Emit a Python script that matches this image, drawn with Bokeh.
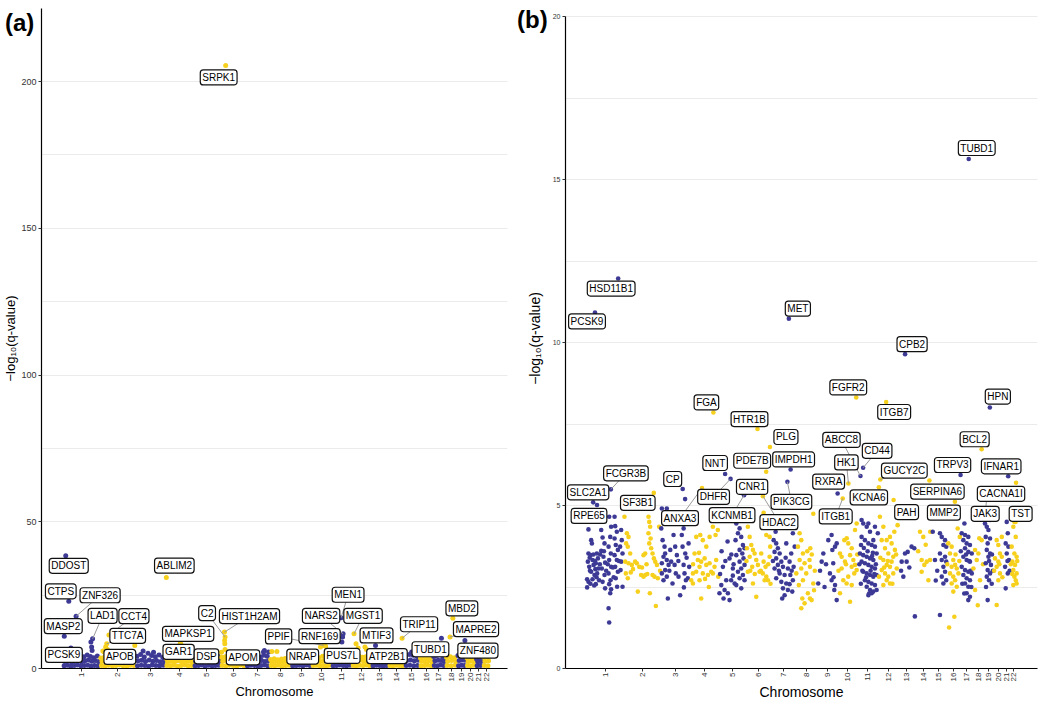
import math
import numpy as np
from bokeh.plotting import figure
from bokeh.models import (Range1d, FixedTicker, SingleIntervalTicker, ColumnDataSource,
                          CustomJSTickFormatter, Div)
from bokeh.layouts import row, column
from bokeh.core.properties import value
from bokeh.embed import file_html
from bokeh.resources import INLINE

FONT = "Liberation Sans"
BLUE = "#3D3A96"
YELLOW = "#F6D01C"
GRID = "#EBEBEB"

# ---------------- chromosome layout (Mb) ----------------
CHROM_LEN_MB = [249, 242, 198, 190, 181, 171, 159, 145, 138, 134, 135,
                133, 114, 107, 102, 90, 83, 80, 59, 64, 47, 51]
CHROM_NAMES = ["1", "2", "3", "4", "5", "6", "7", "8", "9", "10", "11",
               "12", "13", "14", "15", "16", "17", "18", "19", "20", "21", "22"]

# ---------------- panel (a): labelled genes ----------------
A_GENE = ["SRPK1", "DDOST", "ABLIM2", "CTPS", "ZNF326", "MEN1", "MBD2", "MASP2",
          "NARS2", "RNF169", "MGST1", "CCT4", "C2", "HIST1H2AM", "LAD1", "TTC7A",
          "MAPKSP1", "PPIF", "MTIF3", "TRIP11", "MAPRE2", "TUBD1", "ZNF480", "PCSK9",
          "APOB", "GAR1", "DSP", "APOM", "NRAP", "PUS7L", "ATP2B1"]
A_CHR = [6, 1, 4, 1, 1, 11, 18, 1, 11, 11, 12, 2, 6, 6, 1, 2,
         4, 10, 13, 14, 18, 17, 19, 1, 2, 4, 6, 6, 10, 12, 12]
A_POS = [35.8, 20.9, 8.0, 41.4, 90.5, 64.6, 51.7, 11.0, 78.1, 74.5, 16.5, 62.1,
         31.9, 27.9, 201.4, 47.2, 100.8, 81.1, 28.0, 92.4, 32.6, 57.9, 52.8, 55.5,
         21.2, 110.7, 7.5, 31.6, 115.4, 44.1, 90.0]
A_Q = [205.5, 38.4, 31.0, 22.9, 17.8, 17.3, 17.1, 11.0, 11.8, 10.7, 11.8, 11.4,
       10.7, 12.4, 10.1, 8.4, 8.4, 7.85, 7.85, 10.3, 10.7, 10.3, 9.5, 7.0,
       6.0, 6.0, 5.5, 6.5, 6.1, 7.0, 7.3]

# ---------------- panel (a): other genes (chromosome, Mb, -log10 q) ----------------
A_OTHER = [
    (1,10,0.9),(1,14,2.4),(1,6,3.8),(1,32,1.1),(1,36,2.7),(1,28,4.2),(1,55,0.8),(1,59,2.2),(1,51,3.5),
    (1,78,1.0),(1,82,2.5),(1,74,3.9),(1,100,1.2),(1,104,2.8),(1,96,4.4),(1,123,0.9),(1,127,2.3),(1,119,3.6),
    (1,146,1.0),(1,150,2.6),(1,142,4.0),(1,169,1.1),(1,173,2.9),(1,165,4.6),(1,191,0.8),(1,195,2.5),(1,187,4.1),
    (1,214,1.0),(1,218,2.7),(1,210,3.7),(1,237,0.9),(1,241,2.4),(1,233,4.3),
    (1,190,9.0),(1,195,7.3),(1,198,6.1),(1,60,5.5),
    (2,12,1.0),(2,16,2.5),(2,8,3.6),(2,36,0.8),(2,40,2.3),(2,32,3.9),(2,60,1.1),(2,64,2.6),(2,56,4.1),
    (2,85,0.9),(2,89,2.8),(2,81,3.5),(2,109,1.0),(2,113,2.4),(2,105,3.8),(2,133,1.2),(2,137,2.2),(2,129,3.4),
    (2,157,0.9),(2,161,2.7),(2,153,4.0),(2,182,0.8),(2,186,2.5),(2,178,3.7),(2,206,1.1),(2,210,2.3),(2,202,4.2),
    (2,230,1.0),(2,234,2.6),(2,226,3.6),
    (2,40,7.3),(2,52,6.5),(2,236,7.8),(2,30,5.6),
    (3,12,0.9),(3,16,2.6),(3,8,4.2),(3,37,1.1),(3,41,2.8),(3,33,4.8),(3,62,1.0),(3,66,2.4),(3,58,3.9),
    (3,87,0.8),(3,91,2.9),(3,83,5.2),(3,111,1.2),(3,115,2.5),(3,107,4.4),(3,136,1.0),(3,140,2.7),(3,132,4.0),
    (3,161,0.9),(3,165,2.3),(3,157,4.6),(3,186,1.1),(3,190,2.6),(3,182,3.8),
    (3,50,6.0),(3,120,5.5),
    (4,12,1.0),(4,16,2.3),(4,8,3.4),(4,36,0.9),(4,40,2.5),(4,32,3.2),(4,59,1.1),(4,63,2.2),(4,55,3.6),
    (4,83,0.8),(4,87,2.6),(4,79,3.5),(4,107,1.0),(4,111,2.4),(4,103,3.3),(4,131,1.2),(4,135,2.3),(4,127,3.7),
    (4,154,0.9),(4,158,2.5),(4,150,3.1),(4,178,1.0),(4,182,2.2),(4,174,3.4),
    (4,105,8.4),
    (5,11,0.9),(5,15,2.5),(5,7,3.9),(5,34,1.0),(5,38,2.7),(5,30,4.1),(5,57,1.2),(5,61,2.4),(5,53,3.7),
    (5,79,0.8),(5,83,2.6),(5,75,4.3),(5,102,1.1),(5,106,2.8),(5,98,3.8),(5,125,0.9),(5,129,2.5),(5,121,4.0),
    (5,147,1.0),(5,151,2.3),(5,143,3.6),(5,170,1.1),(5,174,2.6),(5,166,4.2),
    (6,12,1.0),(6,16,2.5),(6,8,3.8),(6,37,0.9),(6,41,2.7),(6,33,4.0),(6,61,1.1),(6,65,2.9),(6,57,4.6),
    (6,86,1.0),(6,90,2.4),(6,82,3.9),(6,110,0.8),(6,114,2.6),(6,106,3.6),(6,134,1.2),(6,138,2.3),(6,130,4.1),
    (6,159,0.9),(6,163,2.5),(6,155,3.7),
    (6,28.5,9.5),(6,30,8.4),
    (7,11,0.9),(7,15,2.4),(7,7,3.5),(7,34,1.1),(7,38,2.6),(7,30,3.8),(7,57,1.0),(7,61,2.3),(7,53,3.4),
    (7,80,0.8),(7,84,2.5),(7,76,3.6),(7,102,1.0),(7,106,2.7),(7,98,3.9),(7,125,1.2),(7,129,2.4),(7,121,4.5),
    (7,148,0.9),(7,152,2.6),(7,144,4.2),
    (7,119,5.6),(7,153,5.6),(7,125,6.1),
    (8,12,1.0),(8,16,2.2),(8,8,3.1),(8,36,0.9),(8,40,2.4),(8,32,3.3),(8,60,1.1),(8,64,2.1),(8,56,3.0),
    (8,85,0.8),(8,89,2.3),(8,81,3.2),(8,109,1.0),(8,113,2.5),(8,105,3.4),(8,133,1.1),(8,137,2.2),(8,129,3.1),
    (8,16,5.8),(8,50,5.8),
    (9,11,0.9),(9,15,2.3),(9,7,3.3),(9,34,1.0),(9,38,2.5),(9,30,3.6),(9,57,1.1),(9,61,2.4),(9,53,3.2),
    (9,80,0.9),(9,84,2.6),(9,76,3.5),(9,103,1.2),(9,107,2.2),(9,99,3.4),(9,127,1.0),(9,131,2.4),(9,123,3.7),
    (10,11,1.0),(10,15,2.5),(10,7,3.8),(10,33,1.1),(10,37,2.7),(10,29,4.0),(10,56,0.9),(10,60,2.4),(10,52,3.7),
    (10,78,1.0),(10,82,2.6),(10,74,4.2),(10,100,0.8),(10,104,2.8),(10,96,3.9),(10,123,1.1),(10,127,2.5),(10,119,3.6),
    (10,60,7.3),(10,95,7.6),
    (11,11,0.9),(11,15,2.6),(11,7,3.9),(11,34,1.0),(11,38,2.4),(11,30,3.7),(11,56,1.2),(11,60,2.7),(11,52,4.1),
    (11,79,1.0),(11,83,2.9),(11,75,4.4),(11,101,0.9),(11,105,2.5),(11,97,3.8),(11,124,1.1),(11,128,2.6),(11,120,4.0),
    (11,70,9.0),
    (12,11,1.0),(12,15,2.4),(12,7,3.7),(12,33,0.9),(12,37,2.6),(12,29,3.9),(12,55,1.1),(12,59,2.8),(12,51,4.2),
    (12,78,1.0),(12,82,2.5),(12,74,3.8),(12,100,1.2),(12,104,2.7),(12,96,4.0),(12,122,0.9),(12,126,2.4),(12,118,3.6),
    (12,30,8.4),(12,100,6.5),
    (13,11,0.9),(13,15,2.5),(13,7,3.6),(13,34,1.1),(13,38,2.3),(13,30,3.4),(13,57,1.0),(13,61,2.6),(13,53,3.9),
    (13,80,0.8),(13,84,2.4),(13,76,3.5),(13,103,1.0),(13,107,2.7),(13,99,3.8),
    (14,11,1.0),(14,15,2.3),(14,7,3.2),(14,32,0.9),(14,36,2.5),(14,28,3.5),(14,54,1.1),(14,58,2.2),(14,50,3.3),
    (14,75,1.0),(14,79,2.4),(14,71,3.1),(14,96,0.9),(14,100,2.6),(14,92,3.6),
    (15,13,1.0),(15,17,2.7),(15,9,4.3),(15,38,1.1),(15,42,2.9),(15,34,4.8),(15,64,0.9),(15,68,2.6),(15,60,4.5),
    (15,89,1.0),(15,93,2.8),(15,85,4.2),(15,50,5.6),
    (16,11,0.9),(16,15,2.5),(16,7,3.6),(16,34,1.0),(16,38,2.4),(16,30,3.8),(16,56,1.1),(16,60,2.6),(16,52,3.5),
    (16,79,0.9),(16,83,2.3),(16,75,3.7),
    (17,10,1.0),(17,14,2.6),(17,6,4.1),(17,31,0.9),(17,35,2.8),(17,27,4.4),(17,52,1.2),(17,56,2.7),(17,48,4.6),
    (17,73,1.0),(17,77,2.5),(17,69,3.9),(17,40,6.0),
    (18,13,1.0),(18,17,2.5),(18,9,3.8),(18,40,0.9),(18,44,2.7),(18,36,4.0),(18,67,1.1),(18,71,2.4),(18,63,3.7),
    (19,10,0.9),(19,14,2.7),(19,6,4.4),(19,30,1.1),(19,34,2.9),(19,26,5.0),(19,49,1.0),(19,53,2.8),(19,45,4.6),
    (19,20,6.5),
    (20,11,1.0),(20,15,2.4),(20,7,3.7),(20,32,0.9),(20,36,2.6),(20,28,3.9),(20,53,1.1),(20,57,2.5),(20,49,3.6),
    (21,12,0.9),(21,16,2.3),(21,8,3.2),(21,35,1.0),(21,39,2.5),(21,31,3.4),
    (22,13,1.0),(22,17,2.5),(22,9,3.8),(22,38,0.9),(22,42,2.6),(22,34,4.0),
]

# ---------------- panel (b): labelled genes ----------------
B_GENE = ["TUBD1", "HSD11B1", "PCSK9", "MET", "CPB2", "FGFR2", "ITGB7", "HPN", "FGA",
          "HTR1B", "PLG", "BCL2", "CD44", "IMPDH1", "PDE7B", "NNT", "TRPV3", "ABCC8",
          "IFNAR1", "DHFR", "GUCY2C", "SERPINA6", "PIK3CG", "CACNA1I", "HK1", "KCNA6",
          "ANXA3", "CP", "FCGR3B", "CNR1", "SF3B1", "JAK3", "RXRA", "KCNMB1", "HDAC2",
          "ITGB1", "PAH", "MMP2", "SLC2A1", "RPE65", "TST"]
B_CHR = [17, 1, 1, 7, 13, 10, 12, 19, 4, 6, 6, 18, 11, 7, 6, 5, 17, 11,
         21, 5, 12, 14, 7, 22, 10, 12, 4, 3, 1, 6, 2, 19, 9, 5, 6,
         10, 12, 16, 1, 1, 22]
B_POS = [57.9, 209.9, 55.5, 116.3, 46.6, 123.3, 53.6, 35.5, 155.5, 78.2, 161.1, 60.8,
         35.2, 128.0, 136.2, 43.6, 3.4, 17.4, 34.7, 79.9, 14.8, 94.8, 106.5, 40.0,
         71.1, 4.9, 79.5, 148.9, 161.6, 88.9, 198.3, 17.9, 137.2, 169.8, 114.3,
         33.2, 103.2, 55.5, 43.4, 68.9, 37.4]
B_Q = [15.64, 11.97, 10.93, 10.74, 9.65, 8.32, 8.18, 8.01, 7.86, 7.35, 6.80, 6.73,
       6.16, 6.11, 6.04, 5.97, 5.94, 5.91, 5.90, 5.82, 5.80, 5.77, 5.73, 5.70,
       5.68, 5.56, 5.54, 5.51, 5.50, 5.45, 5.39, 5.39, 5.37, 5.32, 5.29,
       5.22, 5.17, 5.12, 5.10, 5.02, 4.50]

# ---------------- panel (b): other genes (chromosome, Mb, -log10 q) ----------------
B_OTHER = [
    (1,12,4.27),(1,12,3.53),(1,8,3.28),(1,17,3.12),(1,3,2.74),(1,12,2.66),(1,3,2.49),(1,30,3.94),(1,35,3.84),
    (1,26,3.48),(1,39,3.33),(1,46,3.18),(1,30,2.97),(1,52,2.87),(1,39,2.74),(1,61,2.59),(1,68,3.53),(1,75,3.38),
    (1,61,3.23),(1,79,3.07),(1,70,2.92),(1,83,2.71),(1,97,4.25),(1,106,4.02),(1,119,3.84),(1,97,3.61),(1,112,3.43),
    (1,123,3.25),(1,101,3.07),(1,119,2.87),(1,106,2.66),(1,123,2.46),(1,150,4.66),(1,163,4.35),(1,157,4.04),
    (1,146,3.74),(1,161,3.53),(1,150,3.33),(1,163,3.12),(1,146,2.92),(1,159,2.71),(1,150,2.59),(1,163,2.43),
    (1,157,2.31),(1,146,1.85),(1,150,1.41),(1,186,4.66),(1,190,4.37),(1,201,4.2),(1,186,3.99),(1,194,3.79),
    (1,208,3.64),(1,186,3.48),(1,201,3.33),(1,190,3.12),(1,208,2.97),(1,194,2.77),(1,203,2.51),(1,230,4.25),
    (1,234,3.94),(1,223,3.74),(1,239,3.53),(1,230,3.28),(1,226,3.02),(1,239,2.51),(1,20,3.4),(1,22,3.0),
    (1,45,3.5),(1,55,3.3),(1,58,3.05),(1,66,2.8),(1,88,3.2),(1,90,3.5),(1,50,2.55),(1,25,2.6),(1,115,3.6),
    (1,130,3.0),(1,140,3.2),(1,175,3.1),(1,180,2.8),(1,215,3.3),
    (2,3,4.66),(2,19,4.15),(2,30,4.04),(2,14,3.84),(2,25,3.74),(2,41,3.53),(2,8,3.28),(2,30,3.23),(2,52,3.18),
    (2,74,3.28),(2,85,3.23),(2,101,3.12),(2,12,2.92),(2,25,2.77),(2,92,2.36),(2,130,3.48),(2,141,3.53),
    (2,114,2.87),(2,130,2.82),(2,141,2.87),(2,163,4.66),(2,168,4.5),(2,174,4.35),(2,163,4.15),(2,177,3.99),
    (2,168,3.84),(2,181,3.69),(2,190,3.53),(2,199,3.38),(2,208,3.28),(2,219,3.18),(2,190,2.87),(2,203,2.82),
    (2,225,2.77),(2,172,2.31),(2,212,1.92),(2,234,4.35),(2,60,3.05),(2,120,3.1),(2,150,3.2),(2,240,3.0),
    (2,45,2.95),(2,155,2.9),
    (3,10,4.91),(3,43,4.91),(3,6,4.3),(3,15,3.94),(3,28,3.74),(3,32,3.53),(3,21,3.43),(3,43,3.33),(3,10,3.23),
    (3,55,3.18),(3,32,3.02),(3,10,2.92),(3,43,2.82),(3,21,2.71),(3,66,3.64),(3,72,3.28),(3,88,4.1),(3,99,3.74),
    (3,110,3.48),(3,95,3.18),(3,103,2.92),(3,121,2.82),(3,81,2.61),(3,50,2.15),(3,132,2.25),(3,143,4.1),
    (3,155,4.3),(3,148,3.74),(3,166,3.53),(3,155,3.18),(3,161,2.92),(3,170,2.71),(3,157,2.49),(3,188,3.84),
    (3,192,3.12),(3,183,2.77),(3,165,5.2),(3,60,3.0),(3,120,3.3),(3,175,3.4),
    (4,41,4.04),(4,68,4.1),(4,85,3.94),(4,30,3.53),(4,52,3.33),(4,74,3.28),(4,97,3.38),(4,108,3.18),(4,130,3.23),
    (4,63,3.12),(4,41,2.97),(4,19,2.92),(4,85,2.92),(4,119,2.87),(4,141,2.97),(4,152,2.92),(4,163,3.12),
    (4,174,3.33),(4,170,4.1),(4,185,4.25),(4,152,4.35),(4,130,4.04),(4,188,2.82),(4,63,2.71),(4,8,2.71),
    (4,74,2.15),(4,19,2.61),(4,108,3.74),(4,145,4.86),(4,20,3.2),(4,100,2.75),(4,125,2.5),(4,60,3.55),
    (5,118,4.45),(5,140,4.3),(5,129,4.15),(5,151,4.04),(5,113,3.94),(5,162,3.79),(5,173,3.69),(5,140,3.64),
    (5,158,3.53),(5,118,3.48),(5,166,3.38),(5,140,3.28),(5,173,3.18),(5,151,3.07),(5,129,2.97),(5,162,2.87),
    (5,140,2.77),(5,173,2.71),(5,118,2.56),(5,151,2.46),(5,29,3.12),(5,51,2.71),(5,18,2.56),(5,40,2.41),
    (5,62,2.31),(5,84,2.71),(5,95,3.07),(5,73,3.38),(5,6,2.31),(5,33,2.15),(5,73,2.1),(5,107,2.61),(5,95,2.85),
    (5,20,3.6),(5,45,3.3),(5,60,3.9),(5,85,3.5),(5,100,3.2),(5,10,2.9),
    (6,14,4.35),(6,26,4.04),(6,37,3.79),(6,8,3.69),(6,48,3.64),(6,59,3.53),(6,26,3.43),(6,70,3.33),(6,81,3.18),
    (6,43,3.12),(6,14,2.97),(6,92,2.97),(6,114,2.92),(6,137,2.82),(6,148,2.71),(6,132,3.12),(6,119,3.28),
    (6,137,4.1),(6,159,4.04),(6,163,3.74),(6,126,2.71),(6,48,2.61),(6,70,2.2),(6,159,3.43),(6,103,3.53),
    (6,119,4.78),(6,30,3.0),(6,60,2.9),(6,100,3.0),(6,150,3.2),(6,5,3.3),(6,165,2.6),
    (7,28,4.2),(7,15,3.94),(7,32,3.84),(7,43,3.69),(7,21,3.58),(7,55,3.53),(7,32,3.38),(7,66,3.28),(7,43,3.18),
    (7,77,3.12),(7,21,3.07),(7,55,2.92),(7,88,2.87),(7,32,2.77),(7,66,2.66),(7,99,2.61),(7,77,2.46),(7,110,2.41),
    (7,88,2.25),(7,72,2.15),(7,143,4.15),(7,155,3.74),(7,132,3.53),(7,121,3.28),(7,148,3.12),(7,126,2.87),
    (7,143,2.71),(7,121,2.59),(7,139,2.36),(7,110,3.07),(7,99,3.84),(7,10,3.3),(7,50,3.0),(7,95,3.4),(7,135,3.0),
    (8,29,4.15),(8,40,3.94),(8,18,3.74),(8,51,3.53),(8,29,3.33),(8,62,3.23),(8,40,3.07),(8,73,2.92),(8,51,2.71),
    (8,24,2.56),(8,84,2.31),(8,47,2.15),(8,62,2.0),(8,95,3.33),(8,100,3.69),(8,98,2.15),(8,109,2.1),(8,120,2.61),
    (8,98,3.12),(8,7,2.92),(8,130,3.0),(8,110,3.5),(8,80,3.6),(8,125,2.4),(8,120,4.75),(8,40,1.85),
    (9,8,2.61),(9,31,3.28),(9,42,3.53),(9,75,3.94),(9,97,4.1),(9,102,3.64),(9,120,3.74),(9,131,3.84),(9,108,3.23),
    (9,86,2.92),(9,97,2.71),(9,120,2.56),(9,115,2.41),(9,131,2.1),(9,110,2.8),(9,60,3.2),(9,20,3.0),(9,50,2.5),
    (10,15,3.53),(10,26,3.43),(10,48,3.28),(10,82,3.48),(10,104,3.33),(10,115,3.18),(10,93,3.12),(10,126,3.02),
    (10,110,2.92),(10,70,2.82),(10,37,2.71),(10,59,2.61),(10,93,2.56),(10,26,3.07),(10,115,4.25),(10,126,4.45),
    (10,70,3.84),(10,93,3.69),(10,44,3.94),(10,82,2.05),(10,15,2.31),(10,5,3.0),(10,55,3.2),(10,130,3.5),
    (10,60,4.0),
    (11,25,4.56),(11,36,4.45),(11,59,4.35),(11,70,4.45),(11,81,4.2),(11,25,4.04),(11,47,3.94),(11,70,3.84),
    (11,92,3.79),(11,103,3.94),(11,114,3.74),(11,14,3.53),(11,36,3.48),(11,59,3.43),(11,81,3.38),(11,103,3.33),
    (11,125,3.53),(11,25,3.28),(11,47,3.23),(11,70,3.18),(11,92,3.12),(11,114,3.07),(11,36,2.97),(11,59,2.92),
    (11,81,2.87),(11,103,2.82),(11,125,2.87),(11,47,2.71),(11,70,2.66),(11,92,2.61),(11,114,2.56),(11,59,2.51),
    (11,81,2.41),(11,103,2.36),(11,125,2.41),(11,133,4.15),(11,114,4.35),(11,92,2.31),(11,70,2.25),(11,21,3.79),
    (11,10,3.2),(11,30,3.0),(11,65,3.6),(11,85,3.0),(11,100,3.55),(11,120,3.2),(11,75,2.3),(11,55,2.8),
    (11,95,3.45),(11,110,2.9),(11,40,3.7),(11,20,2.6),
    (12,12,4.66),(12,35,4.35),(12,24,3.94),(12,57,3.94),(12,79,4.04),(12,90,3.84),(12,46,3.69),(12,68,3.53),
    (12,101,3.43),(12,112,3.64),(12,35,3.33),(12,57,3.18),(12,79,3.12),(12,90,3.28),(12,24,3.02),(12,46,2.92),
    (12,68,2.82),(12,101,2.92),(12,124,3.07),(12,57,2.71),(12,79,2.61),(12,35,2.56),(12,130,4.4),(12,108,4.2),
    (12,6,2.82),(12,15,3.4),(12,65,3.3),(12,95,2.6),(12,120,3.5),(12,40,3.1),
    (13,46,3.53),(13,64,3.58),(13,24,3.28),(13,57,3.28),(13,90,3.74),(13,108,3.69),(13,35,2.82),(13,112,1.6),
    (13,75,3.1),(13,20,3.0),
    (14,32,4.2),(14,54,4.04),(14,43,3.33),(14,77,3.28),(14,99,3.33),(14,61,3.18),(14,88,2.71),(14,43,2.97),
    (14,20,3.6),(14,70,3.8),(14,100,4.2),
    (15,58,4.15),(15,70,4.04),(15,92,3.94),(15,81,3.79),(15,100,3.74),(15,58,3.53),(15,92,3.43),(15,70,3.33),
    (15,100,3.28),(15,81,3.12),(15,92,2.97),(15,70,2.82),(15,100,2.71),(15,81,2.61),(15,58,1.64),(15,25,3.33),
    (15,10,4.2),(15,40,3.0),(15,30,2.7),
    (16,12,3.84),(16,34,3.74),(16,23,3.53),(16,45,3.33),(16,57,3.18),(16,34,3.12),(16,68,3.07),(16,23,2.92),
    (16,45,2.82),(16,79,2.92),(16,57,2.71),(16,34,2.61),(16,68,2.51),(16,45,2.36),(16,74,4.3),(16,52,1.59),
    (16,17,1.26),(16,88,4.04),(16,5,3.2),(16,60,3.5),(16,85,3.3),
    (17,11,4.15),(17,33,4.1),(17,55,4.04),(17,22,3.94),(17,44,3.84),(17,66,3.79),(17,33,3.69),(17,55,3.58),
    (17,78,3.53),(17,22,3.43),(17,44,3.33),(17,66,3.28),(17,11,3.12),(17,33,3.02),(17,55,2.97),(17,78,2.92),
    (17,22,2.87),(17,44,2.77),(17,66,2.71),(17,33,2.61),(17,55,2.51),(17,44,2.31),(17,66,2.2),(17,55,2.1),
    (17,29,4.45),(17,5,3.6),(17,15,2.6),(17,70,3.0),(17,40,3.5),(17,60,3.3),(17,75,2.5),(17,28,2.3),
    (18,17,3.64),(18,39,3.53),(18,28,3.33),(18,6,3.07),(18,50,2.71),(18,35,1.94),(18,17,2.41),(18,61,3.94),
    (18,70,3.2),(18,45,4.0),
    (19,3,4.45),(19,15,4.35),(19,26,4.25),(19,8,4.04),(19,37,3.99),(19,21,3.84),(19,15,3.64),(19,37,3.53),
    (19,26,3.43),(19,8,3.23),(19,43,3.18),(19,21,3.02),(19,37,2.92),(19,15,2.82),(19,30,2.71),(19,21,2.1),
    (19,43,4.66),(19,37,4.56),(19,50,3.5),(19,55,3.0),(19,48,2.6),(19,10,2.5),(19,30,3.3),
    (20,22,3.94),(20,33,3.79),(20,44,3.53),(20,11,3.38),(20,33,3.28),(20,56,3.43),(20,22,3.12),(20,44,2.92),
    (20,33,2.71),(20,22,1.95),(20,56,4.04),(20,5,3.0),(20,60,2.8),(20,40,3.2),
    (21,25,4.5),(21,32,4.15),(21,18,3.84),(21,36,3.74),(21,25,3.53),(21,40,3.33),(21,14,3.12),(21,32,2.92),
    (21,18,2.46),(21,44,3.0),(21,30,3.3),
    (22,22,4.35),(22,38,4.04),(22,11,3.74),(22,29,3.53),(22,44,3.43),(22,16,3.28),(22,33,3.18),(22,22,3.02),
    (22,44,2.92),(22,29,2.82),(22,38,2.71),(22,22,2.56),(22,44,2.61),(22,29,4.5),(22,5,3.2),(22,48,3.3),
    (22,15,2.9),
]

# ---------------- label layout (screen-pixel offsets from the point; +dy = down) ----------------
A_LABEL_DX = [-7, 3, 8, -8, 24, 7, 9, -1, -22, -23, 9, 25, -18, 25, 10, 21,
              8, -45, 1, 17, 26, -11, 13, -7, 17, -3, -15, 18, -26, -16, 22]
A_LABEL_DY = [12, 10, -12, -10, -21, -23, -10, -10, -18, -1, -18, -19, -24, -16, -23, -8,
              -10, -9, -10, -14, -8, 11, 10, 7, 6, 1, 4, 8, 6, 8, 9]
A_SEGMENT = [0, 0, 0, 0, 1, 1, 0, 0, 1, 0, 1, 1, 1, 1, 1, 1,
             0, 1, 0, 1, 1, 0, 0, 0, 0, 0, 0, 0, 0, 0, 0]
B_LABEL_DX = [8, -7, -8, 9, 7, -8, 8, 8, -7, -8, 16, -7, 14, 3, -14, -10, -8, -19,
              -7, -17, 24, 8, 4, -15, -2, -10, -22, -10, 15, -7, -16, -2, -9, -12, 16,
              -7, 13, -11, -5, -8, 5]
B_LABEL_DY = [-11, 10, 9, -10, -10, -10, 10, -11, -10, -10, -10, -10, -17, -10, -11, -11, -10, -36,
              -10, 18, -9, 11, 20, 11, -21, 10, 30, -10, -16, -4, 10, 21, -12, 20, 26,
              18, 12, 11, -10, 11, -8]
B_SEGMENT = [0, 0, 0, 0, 0, 0, 0, 0, 0, 0, 0, 0, 1, 0, 0, 0, 0, 1,
             0, 1, 1, 0, 1, 0, 1, 0, 1, 0, 1, 0, 0, 1, 0, 1, 1,
             1, 0, 0, 0, 0, 0]


def build_panel(genes, g_chr, g_pos, g_q, others, dxs, dys, segs,
                x_rng, y_rng, y_bounds, y_step, frame, borders,
                xtick_fs, ytick_fs, label_fs, dot_size, ylabel_standoff):
    lens = np.asarray(CHROM_LEN_MB, dtype=float)
    starts = np.concatenate([[0.0], np.cumsum(lens)[:-1]])
    mids = starts + lens / 2.0

    o_chr = np.array([t[0] for t in others])
    o_pos = np.array([t[1] for t in others], dtype=float)
    o_q = np.array([t[2] for t in others], dtype=float)
    gc = np.asarray(g_chr)
    gp = np.asarray(g_pos, dtype=float)
    gq = np.asarray(g_q, dtype=float)

    all_chr = np.concatenate([o_chr, gc])
    all_x = starts[all_chr - 1] + np.concatenate([o_pos, gp])
    all_q = np.concatenate([o_q, gq])
    colors = [BLUE if c % 2 == 1 else YELLOW for c in all_chr]

    frame_w, frame_h = frame
    left, right, top, bottom = borders
    p = figure(frame_width=frame_w, frame_height=frame_h,
               x_range=Range1d(*x_rng), y_range=Range1d(*y_rng),
               output_backend="svg", toolbar_location=None,
               min_border_left=left, min_border_right=right,
               min_border_top=top, min_border_bottom=bottom)
    p.background_fill_color = "white"
    p.border_fill_color = "white"
    p.outline_line_color = None

    yt = SingleIntervalTicker(interval=y_step, num_minor_ticks=2)
    p.yaxis.ticker = yt
    p.ygrid.ticker = yt
    p.ygrid.grid_line_color = GRID
    p.ygrid.minor_grid_line_color = GRID
    p.ygrid.grid_line_width = 1
    p.xgrid.visible = False
    if y_bounds is not None:
        p.yaxis.bounds = y_bounds

    mid_list = [float(m) for m in mids]
    p.xaxis.ticker = FixedTicker(ticks=mid_list)
    p.xaxis.formatter = CustomJSTickFormatter(
        args=dict(mids=mid_list, names=CHROM_NAMES),
        code="""
        let best = 0, bd = Infinity;
        for (let i = 0; i < mids.length; i++) {
            const d = Math.abs(mids[i] - tick);
            if (d < bd) { bd = d; best = i; }
        }
        return names[best];
        """)
    p.xaxis.major_label_orientation = math.pi / 2
    p.xaxis.axis_label = "Chromosome"
    p.yaxis.axis_label = "\u2212log\u2081\u2080(q-value)"

    for ax, fs in ((p.xaxis, xtick_fs), (p.yaxis, ytick_fs)):
        ax.axis_line_color = "black"
        ax.axis_line_width = 1.2
        ax.major_tick_line_color = "#333333"
        ax.major_tick_out = 3
        ax.major_tick_in = 0
        ax.minor_tick_line_color = None
        ax.major_label_text_font = FONT
        ax.major_label_text_font_size = fs
        ax.major_label_text_color = "#333333"
        ax.major_label_standoff = 1
        ax.axis_label_text_font = FONT
        ax.axis_label_text_font_style = "normal"
        ax.axis_label_text_font_size = label_fs
        ax.axis_label_text_color = "black"
    p.xaxis.axis_label_standoff = 0
    p.yaxis.axis_label_standoff = ylabel_standoff

    p.scatter(all_x, all_q, size=dot_size, fill_color=colors, line_color=None)

    # label positions from pixel offsets
    ppx = frame_w / (x_rng[1] - x_rng[0])
    ppy = frame_h / (y_rng[1] - y_rng[0])
    gx = starts[gc - 1] + gp
    lx = gx + np.asarray(dxs, dtype=float) / ppx
    ly = gq - np.asarray(dys, dtype=float) / ppy
    sm = np.asarray(segs, dtype=bool)
    p.segment(x0=gx[sm], y0=gq[sm], x1=lx[sm], y1=ly[sm], line_color="#9a9a9a", line_width=1)

    src = ColumnDataSource(dict(x=lx, y=ly, text=genes))
    p.text(x="x", y="y", text="text", source=src,
           text_font=value(FONT), text_font_size="10px", text_color="black",
           text_align="center", text_baseline="middle",
           background_fill_color="white", border_line_color="#111111",
           border_line_width=1.2, padding=2, border_radius=3)
    return p


pa = build_panel(A_GENE, A_CHR, A_POS, A_Q, A_OTHER, A_LABEL_DX, A_LABEL_DY, A_SEGMENT,
                 (-142, 2990), (0, 224.9), None, 50, (466, 660), (35, 6, 8, 20),
                 "8px", "9px", "13px", 5, 0)
pb = build_panel(B_GENE, B_CHR, B_POS, B_Q, B_OTHER, B_LABEL_DX, B_LABEL_DY, B_SEGMENT,
                 (-141, 3004), (0, 20.26), (0, 20), 5, (472, 660), (52, 3, 8, 20),
                 "8px", "7px", "14px", 4.6, 7)

TAG_STYLE = "position:absolute;font-family:'Liberation Sans',Arial,sans-serif;font-weight:bold;font-size:24px;line-height:normal;color:black;white-space:nowrap;"
tags = Div(text=(f'<div style="{TAG_STYLE}left:0px;top:4px;">(a)</div>'
                 f'<div style="{TAG_STYLE}left:512px;top:1px;">(b)</div>'),
           width=600, height=30,
           styles={"position": "absolute", "left": "0px", "top": "0px", "z-index": "20",
                   "overflow": "visible", "pointer-events": "none"})

layout = column(row(pa, pb), tags)
open("out.html", "w").write(file_html(layout, INLINE))
